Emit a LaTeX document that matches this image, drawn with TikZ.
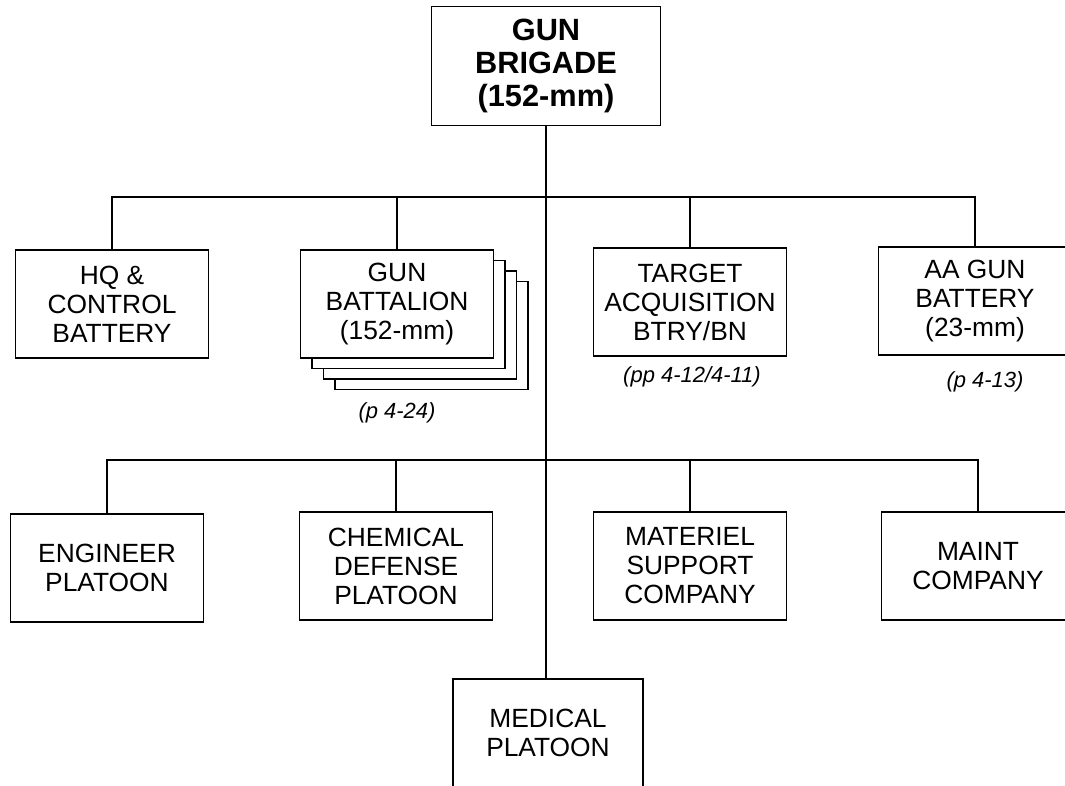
\documentclass[tikz,border=0pt]{standalone}
\usepackage{fontspec}
\setmainfont{Liberation Sans}
\usepackage{tikz}
\usetikzlibrary{positioning}
\tikzstyle{unit} = [rectangle, draw=black, fill=white, line width=1pt, minimum width=3.86cm, minimum height=2.16cm, align=center, font=\fontsize{15}{16.5}\selectfont, inner sep=0pt]
\tikzstyle{hq} = [unit, minimum width=4.58cm, minimum height=2.38cm, font=\fontsize{17.5}{19}\selectfont\bfseries]
\tikzstyle{ref} = [font=\fontsize{12.5}{14}\selectfont\itshape, inner sep=0pt]
\tikzstyle{link} = [line width=1pt, draw=black]

\begin{document}
\begin{tikzpicture}[x=0.02cm, y=-0.02cm]
    \useasboundingbox (0,0) rectangle (1065,785);
    \node (brigade) [hq] at (546,66) {GUN\\BRIGADE\\(152-mm)};

    % first row
    \node (hqc) [unit] at (112,304) {HQ \&\\CONTROL\\BATTERY};
    \foreach \k in {3,2,1}
        \node [unit] at (397+\k*11.5,304+\k*10.5) {};
    \node (gunbn) [unit] at (397,304) {GUN\\BATTALION\\(152-mm)};
    \node (tab) [unit] at (690,302) {TARGET\\ACQUISITION\\BTRY/BN};
    \node (aa) [unit] at (975,301) {AA GUN\\BATTERY\\(23-mm)};
    \node (gunref) [ref] at (397,413) {(p 4-24)};
    \node (taref) [ref] at (692,377) {(pp 4-12/4-11)};
    \node (aaref) [ref] at (985,382) {(p 4-13)};

    % second row
    \node (eng) [unit] at (107,568) {ENGINEER\\PLATOON};
    \node (chem) [unit] at (396,566) {CHEMICAL\\DEFENSE\\PLATOON};
    \node (mat) [unit] at (690,566) {MATERIEL\\SUPPORT\\COMPANY};
    \node (maint) [unit] at (978,566) {MAINT\\COMPANY};
    \node (med) [unit, minimum width=3.8cm] at (548,733) {MEDICAL\\PLATOON};

    \coordinate (bus1) at (546,197);
    \coordinate (bus2) at (546,460);

    \draw [link] (brigade.south) -- (brigade.south |- med.north);
    \draw [link] (hqc.north) |- (bus1) -| (aa.north);
    \draw [link] (gunbn.north) -- (gunbn.north |- bus1);
    \draw [link] (tab.north) -- (tab.north |- bus1);
    \draw [link] (eng.north) |- (bus2) -| (maint.north);
    \draw [link] (chem.north) -- (chem.north |- bus2);
    \draw [link] (mat.north) -- (mat.north |- bus2);
\end{tikzpicture}
\end{document}
